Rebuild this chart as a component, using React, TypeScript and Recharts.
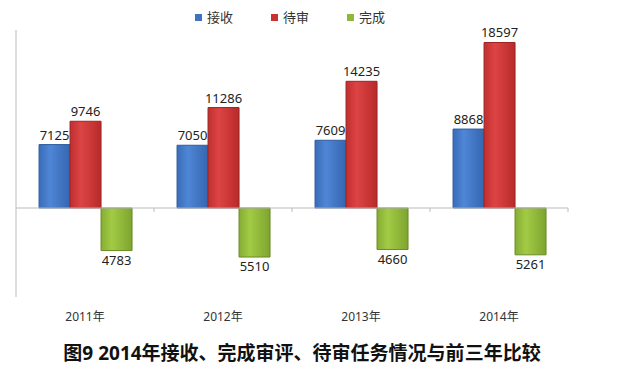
import React from "react";
import {
  BarChart,
  Bar,
  XAxis,
  YAxis,
  Legend,
  LabelList,
  ReferenceLine,
} from "recharts";

const years = ["2011年", "2012年", "2013年", "2014年"];
const received = [7125, 7050, 7609, 8868];
const pending = [9746, 11286, 14235, 18597];
const completed = [-4783, -5510, -4660, -5261];
const yTicks = [-10000, -5000, 0, 5000, 10000, 15000, 20000];

const data = years.map((year, i) => ({
  year,
  接收: received[i],
  待审: pending[i],
  完成: completed[i],
}));

const series = [
  { key: "接收", fill: "url(#gBlue)", stroke: "#2f5c9e", swatch: "#3e72c2" },
  { key: "待审", fill: "url(#gRed)", stroke: "#9e2323", swatch: "#c93232" },
  { key: "完成", fill: "url(#gGreen)", stroke: "#6b8a25", swatch: "#8db838" },
];

const FONT = "'Noto Sans', 'Noto Sans CJK SC', sans-serif";

function LegendContent() {
  return (
    <div
      style={{
        display: "flex",
        justifyContent: "center",
        gap: 38,
        fontFamily: FONT,
        fontSize: 13,
        lineHeight: "15px",
        color: "#333",
      }}
    >
      {series.map((s) => (
        <div key={s.key} style={{ display: "flex", alignItems: "center" }}>
          <span
            style={{
              width: 7,
              height: 7,
              background: s.swatch,
              display: "inline-block",
              marginRight: 5,
            }}
          />
          {s.key}
        </div>
      ))}
    </div>
  );
}

// zero line with small marks between categories
function ZeroLine(props: any) {
  const { x1, x2, y1 } = props;
  const n = years.length;
  const step = (x2 - x1) / n;
  return (
    <g>
      <line x1={x1} x2={x2} y1={y1} y2={y1} stroke="#bbb" strokeWidth={1} />
      {years.map((_, i) => (
        <line
          key={i}
          x1={x1 + step * (i + 1)}
          x2={x1 + step * (i + 1)}
          y1={y1}
          y2={y1 + 4}
          stroke="#bbb"
        />
      ))}
    </g>
  );
}

export default function App() {
  return (
    <div
      style={{
        position: "fixed",
        left: 0,
        top: 0,
        width: 630,
        height: 371,
        background: "#fff",
      }}
    >
      <BarChart
        width={630}
        height={371}
        data={data}
        margin={{ top: 15, right: 62, left: 6, bottom: 44 }}
        barCategoryGap="16.7%"
        barGap={0}
      >
        <defs>
          <linearGradient id="gBlue" x1="0" y1="0" x2="1" y2="0">
            <stop offset="0%" stopColor="#3a6cb8" />
            <stop offset="35%" stopColor="#4f86d6" />
            <stop offset="100%" stopColor="#3566b0" />
          </linearGradient>
          <linearGradient id="gRed" x1="0" y1="0" x2="1" y2="0">
            <stop offset="0%" stopColor="#c02f2f" />
            <stop offset="35%" stopColor="#dd4444" />
            <stop offset="100%" stopColor="#b82a2a" />
          </linearGradient>
          <linearGradient id="gGreen" x1="0" y1="0" x2="1" y2="0">
            <stop offset="0%" stopColor="#86ad33" />
            <stop offset="35%" stopColor="#a2cb45" />
            <stop offset="100%" stopColor="#7ea42f" />
          </linearGradient>
        </defs>
        <XAxis
          dataKey="year"
          axisLine={false}
          tickLine={false}
          tickMargin={9}
          height={30}
          tick={{ fontFamily: FONT, fontSize: 12, fill: "#333" }}
        />
        <YAxis
          domain={[-10000, 20000]}
          ticks={yTicks}
          width={10}
          tick={false}
          tickSize={4}
          axisLine={{ stroke: "#bbb" }}
          tickLine={{ stroke: "#bbb" }}
        />
        <Legend
          verticalAlign="top"
          height={15}
          content={<LegendContent />}
          wrapperStyle={{ top: 10, left: 0, width: 580 }}
        />
        <ReferenceLine y={0} shape={<ZeroLine />} />
        {series.map((s) => (
          <Bar
            key={s.key}
            dataKey={s.key}
            fill={s.fill}
            stroke={s.stroke}
            strokeWidth={1}
            isAnimationActive={false}
          >
            <LabelList
              dataKey={s.key}
              position="top"
              formatter={(v: any) => Math.abs(Number(v))}
              style={{ fontFamily: FONT, fontSize: 13, fill: "#222" }}
            />
          </Bar>
        ))}
      </BarChart>
      <div
        style={{
          position: "absolute",
          left: 0,
          width: 604,
          top: 338,
          textAlign: "center",
          fontFamily: FONT,
          fontSize: 19,
          fontWeight: "bold",
          color: "#111",
        }}
      >
        图9 2014年接收、完成审评、待审任务情况与前三年比较
      </div>
    </div>
  );
}
